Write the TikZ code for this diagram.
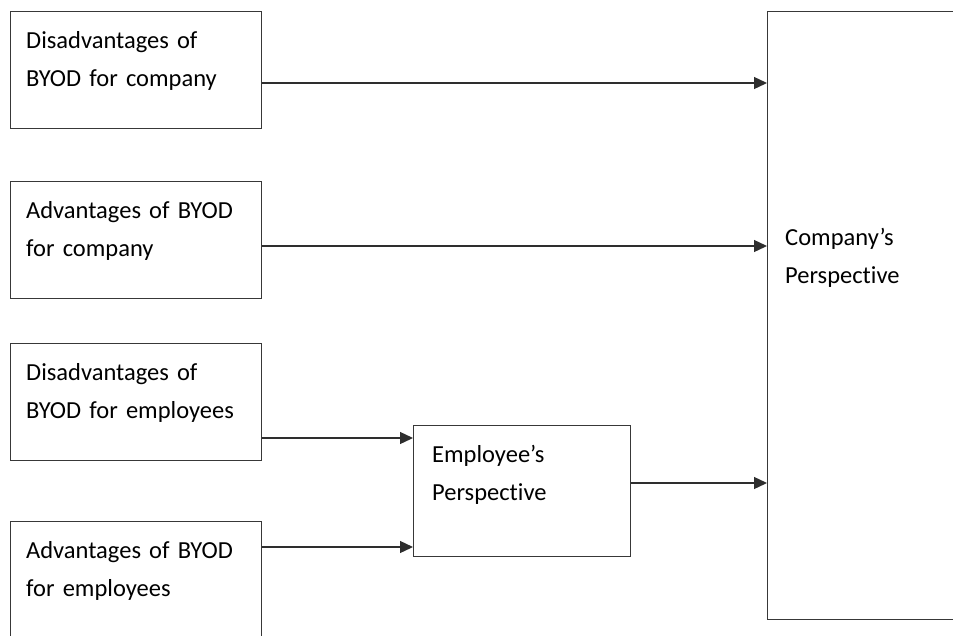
\documentclass[tikz,border=0pt]{standalone}
\usepackage{fontspec}
\setmainfont{Carlito}[Ligatures=NoCommon]
\usetikzlibrary{arrows.meta}
\begin{document}
\begin{tikzpicture}[x=1pt,y=-1pt,
  box/.style={draw=black!78, line width=1.1pt, inner sep=0pt, anchor=north west},
  lbl/.style={anchor=base west, inner sep=0pt, text width=240pt, align=left,
    font=\fontsize{24.5pt}{38pt}\selectfont, text=black},
  arr/.style={draw=black!82, line width=1.3pt, -{Triangle[length=13pt,width=12pt]}}]
\useasboundingbox (0,0) rectangle (953,635);
\clip (0,0) rectangle (953,635);
% boxes
\node[box, minimum width=251pt, minimum height=117pt] (b1) at (10,11) {};
\node[box, minimum width=251pt, minimum height=117pt] (b2) at (10,181) {};
\node[box, minimum width=251pt, minimum height=117pt] (b3) at (10,343) {};
\node[box, minimum width=251pt, minimum height=130pt] (b4) at (10,521) {};
\node[box, minimum width=217pt, minimum height=131pt] (emp) at (413,425) {};
\node[box, minimum width=210pt, minimum height=608pt] (comp) at (767,11) {};
% labels
\node[lbl] (t1) at (26,48) {Disadvantages of\\BYOD for company};
\node[lbl] (t2) at (26,218) {Advantages of BYOD\\for company};
\node[lbl] (t3) at (26,380) {Disadvantages of\\BYOD for employees};
\node[lbl] (t4) at (26,558) {Advantages of BYOD\\for employees};
\node[lbl] (t5) at (432,462) {Employee’s\\Perspective};
\node[lbl] (t6) at (785,245) {Company’s\\Perspective};
% connectors
\draw[arr] (b1.east |- 0,83) -- (comp.west |- 0,83);
\draw[arr] (b2.east |- 0,246) -- (comp.west |- 0,246);
\draw[arr] (b3.east |- 0,438) -- (emp.west |- 0,438);
\draw[arr] (b4.east |- 0,547) -- (emp.west |- 0,547);
\draw[arr] (emp.east |- 0,483) -- (comp.west |- 0,483);
\end{tikzpicture}
\end{document}
